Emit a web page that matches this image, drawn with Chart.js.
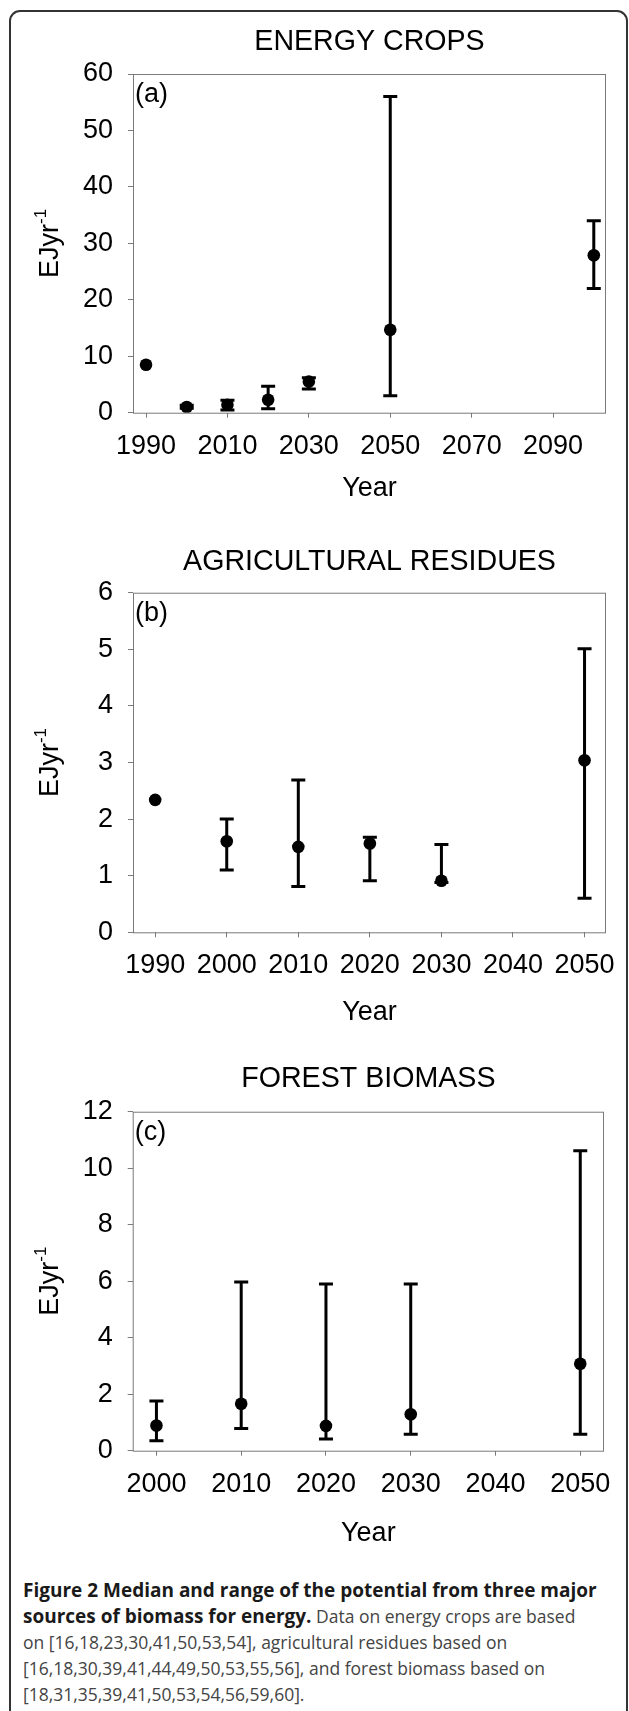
<!DOCTYPE html>
<html>
<head>
<meta charset="utf-8">
<title>Figure 2 - biomass potential</title>
<script src="https://cdn.jsdelivr.net/npm/chart.js@4.4.1/dist/chart.umd.min.js"></script>
<style>
  body { margin: 0; background: #fff; width: 629px; height: 1711px; position: relative; overflow: hidden; }
  #frame { position: absolute; left: 9px; top: 10px; width: 615px; height: 1712px; border: 2px solid #333; border-radius: 11px; }
  canvas { position: absolute; left: 0; }
  #caption { position: absolute; left: 23px; top: 1577px; font-family: "Open Sans", sans-serif; font-size: 17.5px; line-height: 26px; color: #444; white-space: nowrap; }
  #caption b { color: #1a1a1a; font-size: 19px; }
</style>
</head>
<body>
<div id="frame"></div>
<canvas id="chartA" width="629" height="520" style="top:0px"></canvas>
<canvas id="chartB" width="629" height="520" style="top:520px"></canvas>
<canvas id="chartC" width="629" height="520" style="top:1040px"></canvas>
<div id="caption"><b>Figure 2 Median and range of the potential from three major<br>sources of biomass for energy.</b> Data on energy crops are based<br>on [16,18,23,30,41,50,53,54], agricultural residues based on<br>[16,18,30,39,41,44,49,50,53,55,56], and forest biomass based on<br>[18,31,35,39,41,50,53,54,56,59,60].</div>
<script>
// === (a) ENERGY CROPS ===
const yearsA = [1990, 2000, 2010, 2020, 2030, 2050, 2100];
const medianA = [8.5, 1.0, 1.4, 2.3, 5.5, 14.7, 27.9];
const lowA = [null, 0.8, 0.5, 0.7, 4.2, 3.0, 22.0];
const highA = [null, 1.3, 2.2, 4.7, 6.2, 56.0, 34.0];
const xTicksA = [1990, 2010, 2030, 2050, 2070, 2090];
const yTicksA = [0, 10, 20, 30, 40, 50, 60];

// === (b) AGRICULTURAL RESIDUES ===
const yearsB = [1990, 2000, 2010, 2020, 2030, 2050];
const medianB = [2.34, 1.61, 1.51, 1.57, 0.91, 3.04];
const lowB = [null, 1.10, 0.81, 0.91, 0.88, 0.60];
const highB = [null, 2.00, 2.69, 1.68, 1.55, 5.01];
const xTicksB = [1990, 2000, 2010, 2020, 2030, 2040, 2050];
const yTicksB = [0, 1, 2, 3, 4, 5, 6];

// === (c) FOREST BIOMASS ===
const yearsC = [2000, 2010, 2020, 2030, 2050];
const medianC = [0.89, 1.66, 0.88, 1.29, 3.08];
const lowC = [0.35, 0.79, 0.41, 0.58, 0.58];
const highC = [1.76, 5.97, 5.90, 5.90, 10.62];
const xTicksC = [2000, 2010, 2020, 2030, 2040, 2050];
const yTicksC = [0, 2, 4, 6, 8, 10, 12];

const gray = '#7a7a7a';
const mainFont = 'Liberation Sans';

// barres d'erreur (min - max) dessinées avec les échelles du graphe
function errorBarPlugin(years, low, high) {
  return {
    id: 'errorBars',
    beforeDatasetsDraw(chart) {
      const { ctx, scales: { x, y } } = chart;
      ctx.save();
      ctx.strokeStyle = '#000';
      ctx.lineWidth = 3;
      years.forEach((yr, i) => {
        if (low[i] == null) return;
        const px = x.getPixelForValue(yr);
        const top = y.getPixelForValue(high[i]);
        const bot = y.getPixelForValue(low[i]);
        ctx.beginPath();
        ctx.moveTo(px, top); ctx.lineTo(px, bot);
        ctx.moveTo(px - 7, top); ctx.lineTo(px + 7, top);
        ctx.moveTo(px - 7, bot); ctx.lineTo(px + 7, bot);
        ctx.stroke();
      });
      ctx.restore();
    }
  };
}

// cadre gris, lettre du panneau et titre vertical EJyr-1
function panelDecor(letter) {
  return {
    id: 'panelDecor',
    afterDraw(chart) {
      const { ctx, chartArea: a } = chart;
      ctx.save();
      ctx.strokeStyle = gray;
      ctx.lineWidth = 1;
      ctx.strokeRect(a.left + 0.5, a.top + 0.5, a.right - a.left - 1, a.bottom - a.top);
      ctx.fillStyle = '#000';
      ctx.font = '27px "' + mainFont + '"';
      ctx.textBaseline = 'middle';
      ctx.textAlign = 'left';
      ctx.fillText(letter, a.left + 2, a.top + 21);

      ctx.translate(48, (a.top + a.bottom) / 2);
      ctx.rotate(-Math.PI / 2);
      ctx.textBaseline = 'alphabetic';
      const mainW = ctx.measureText('EJyr').width;
      ctx.font = '17px "' + mainFont + '"';
      const supW = ctx.measureText('-1').width;
      const x0 = -(mainW + supW) / 2;
      ctx.font = '27px "' + mainFont + '"';
      ctx.fillText('EJyr', x0, 9.5);
      ctx.font = '17px "' + mainFont + '"';
      ctx.fillText('-1', x0 + mainW, -2.5);
      ctx.restore();
    }
  };
}

function makePanel(id, cfg) {
  const tickFont = { family: mainFont, size: 27 };
  return new Chart(document.getElementById(id), {
    type: 'scatter',
    data: {
      datasets: [{
        data: cfg.years.map((yr, i) => ({ x: yr, y: cfg.median[i] })),
        backgroundColor: '#000',
        borderWidth: 0,
        pointRadius: 6.3,
        pointHoverRadius: 6.3
      }]
    },
    options: {
      responsive: false,
      animation: false,
      devicePixelRatio: 1,
      layout: { padding: { left: 0, right: cfg.padRight, top: 0, bottom: 0 } },
      plugins: {
        legend: { display: false },
        tooltip: { enabled: false },
        title: {
          display: true,
          text: cfg.title,
          fullSize: false,
          color: '#000',
          font: { family: mainFont, size: 28.6, weight: 'normal' },
          padding: { top: cfg.titleTop, bottom: cfg.titleBottom }
        }
      },
      scales: {
        x: {
          type: 'linear',
          min: cfg.xMin,
          max: cfg.xMax,
          afterBuildTicks: (s) => { s.ticks = cfg.xTicks.map(v => ({ value: v })); },
          afterFit: (s) => { s.height = cfg.xHeight; },
          ticks: { callback: (v) => String(v), color: '#000', font: tickFont, padding: 12.5, maxRotation: 0, autoSkip: false },
          grid: { drawOnChartArea: false, drawTicks: true, tickLength: 5, color: gray },
          border: { display: false },
          title: { display: true, text: 'Year', color: '#000', font: tickFont, padding: { top: 0, bottom: cfg.yearBottom } }
        },
        y: {
          min: 0,
          max: cfg.yTicks[cfg.yTicks.length - 1],
          afterBuildTicks: (s) => { s.ticks = cfg.yTicks.map(v => ({ value: v })); },
          afterFit: (s) => { s.width = cfg.left; },
          ticks: { callback: (v) => String(v), color: '#000', font: tickFont, padding: 15 },
          grid: { drawOnChartArea: false, drawTicks: true, tickLength: 5, color: gray },
          border: { display: false }
        }
      }
    },
    plugins: [errorBarPlugin(cfg.years, cfg.low, cfg.high), panelDecor(cfg.letter)]
  });
}

// titre 28.6px -> hauteur de ligne 34.3, les marges gardent le haut du graphe en place
makePanel('chartA', {
  title: 'ENERGY CROPS', letter: '(a)',
  years: yearsA, median: medianA, low: lowA, high: highA,
  xTicks: xTicksA, yTicks: yTicksA, xMin: 1986.8, xMax: 2103,
  left: 133, padRight: 23, titleTop: 24.8, titleBottom: 14.9,
  xHeight: 107.3, yearBottom: 14.8
});

makePanel('chartB', {
  title: 'AGRICULTURAL RESIDUES', letter: '(b)',
  years: yearsB, median: medianB, low: lowB, high: highB,
  xTicks: xTicksB, yTicks: yTicksB, xMin: 1986.9, xMax: 2053,
  left: 133, padRight: 23, titleTop: 24.5, titleBottom: 13.9,
  xHeight: 107.7, yearBottom: 11.2
});

makePanel('chartC', {
  title: 'FOREST BIOMASS', letter: '(c)',
  years: yearsC, median: medianC, low: lowC, high: highC,
  xTicks: xTicksC, yTicks: yTicksC, xMin: 1997.2, xMax: 2052.8,
  left: 132.7, padRight: 25, titleTop: 21.6, titleBottom: 15.8,
  xHeight: 109.3, yearBottom: 9.8
});
</script>
</body>
</html>
